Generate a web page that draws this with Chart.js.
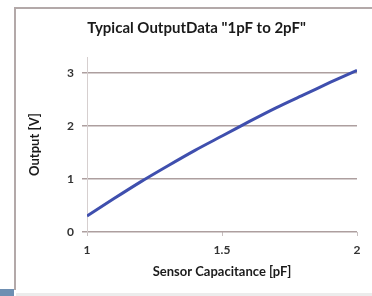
<!DOCTYPE html>
<html><head><meta charset="utf-8">
<script src="https://cdn.jsdelivr.net/npm/chart.js@4.4.0/dist/chart.umd.min.js"></script>
<style>
html,body{margin:0;padding:0;background:#fff;}
#wrap{position:relative;width:372px;height:296px;overflow:hidden;background:#fff;}
#c{position:absolute;left:0;top:0;}
.fr{position:absolute;}
</style></head>
<body>
<div id="wrap">
<canvas id="c" width="372" height="296"></canvas>
<div class="fr" style="left:14px;top:7px;width:358px;height:2px;background:#b3a9a9"></div>
<div class="fr" style="left:14px;top:7px;width:2px;height:283px;background:#b3a9a9"></div>
<div class="fr" style="left:16px;top:293px;width:356px;height:3px;background:#ececec"></div>
<div class="fr" style="left:0px;top:289px;width:14px;height:7px;background:#6e8fb2"></div>
</div>
<script>
const capacitance = [1.0, 1.1, 1.2, 1.3, 1.4, 1.5, 1.6, 1.7, 1.8, 1.9, 2.0];
const outputV = [0.30, 0.63, 0.95, 1.25, 1.54, 1.81, 2.08, 2.34, 2.58, 2.82, 3.05];
const yTicks = [0, 1, 2, 3];
const xTicks = [1, 1.5, 2];
const titleText = 'Typical OutputData "1pF to 2pF"';
const xTitle = 'Sensor Capacitance [pF]';
const yTitle = 'Output [V]';

const FONT = 'Lato';
const gridCol = '#ad9f9f';

new Chart(document.getElementById('c'), {
  type: 'line',
  data: {
    datasets: [{
      data: capacitance.map((x, i) => ({x: x, y: outputV[i]})),
      borderColor: '#3f4fae',
      borderWidth: 3,
      pointRadius: 0,
      tension: 0.3,
      fill: false
    }]
  },
  options: {
    responsive: false,
    animation: false,
    layout: {padding: {left: 26, right: 5, top: 0, bottom: 12}},
    plugins: {
      legend: {display: false},
      tooltip: {enabled: false},
      title: {
        display: true, text: titleText, color: '#1a1a1a',
        font: {family: FONT, size: 15, weight: 'bold', lineHeight: 1.2},
        padding: {top: 19, bottom: 20}
      }
    },
    scales: {
      x: {
        type: 'linear', min: 1, max: 2,
        afterBuildTicks: s => { s.ticks = xTicks.map(v => ({value: v})); },
        afterFit: s => { s.height = 52; },
        grid: {color: 'transparent', tickColor: '#c8c0c0', tickLength: 4, drawOnChartArea: false},
        border: {display: false},
        ticks: {color: '#333', padding: 7, maxRotation: 0, font: {family: FONT, size: 12, weight: 'bold', lineHeight: 1.2}, callback: v => String(v)},
        title: {display: true, text: xTitle, color: '#1a1a1a', padding: {top: 4, bottom: 4}, font: {family: FONT, size: 13, weight: 'bold', lineHeight: 1.2}}
      },
      y: {
        type: 'linear', min: 0, max: 3.3,
        afterBuildTicks: s => { s.ticks = yTicks.map(v => ({value: v})); },
        afterFit: s => { s.width = 61; },
        grid: {color: gridCol, lineWidth: 1.5, tickColor: gridCol, tickLength: 5},
        border: {display: true, color: '#d6cfcf', width: 1},
        ticks: {color: '#333', padding: 8, font: {family: FONT, size: 12, weight: 'bold'}},
        title: {display: true, text: yTitle, color: '#1a1a1a', padding: {top: 1, bottom: 1}, font: {family: FONT, size: 13, weight: 'bold', lineHeight: 1.2}}
      },
      y2: {
        position: 'right', display: true,
        afterFit: s => { s.width = 10; },
        grid: {display: false}, border: {display: false},
        ticks: {display: false}
      }
    }
  }
});
</script>
</body></html>
